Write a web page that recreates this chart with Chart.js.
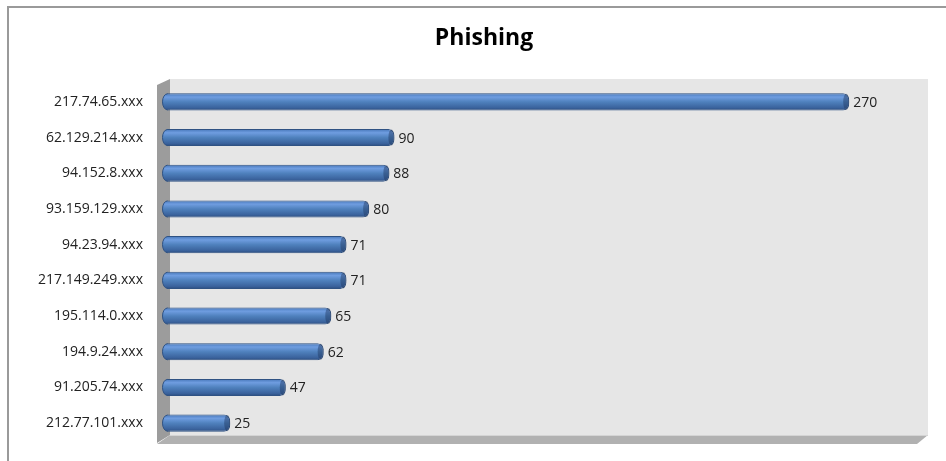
<!DOCTYPE html>
<html>
<head>
<meta charset="utf-8">
<script src="https://cdn.jsdelivr.net/npm/chart.js@4/dist/chart.umd.min.js"></script>
<style>
  html, body { margin: 0; padding: 0; background: #ffffff; }
  #wrap { width: 946px; height: 461px; position: relative; }
</style>
</head>
<body>
<div id="wrap"><canvas id="chart"></canvas></div>
<script>
// --- DATA ---
const categories = ['217.74.65.xxx', '62.129.214.xxx', '94.152.8.xxx', '93.159.129.xxx', '94.23.94.xxx',
                    '217.149.249.xxx', '195.114.0.xxx', '194.9.24.xxx', '91.205.74.xxx', '212.77.101.xxx'];
const hits = [270, 90, 88, 80, 71, 71, 65, 62, 47, 25];
const valueMin = 0;
const valueMax = 300;
const chartTitle = 'Phishing';

const FONT = "'Open Sans', 'DejaVu Sans', sans-serif";

// cylinder-ish vertical gradient for each bar, built from the category scale
function barGradient(c) {
    const chart = c.chart;
    const ys = chart.scales.y;
    if (!ys || ys.height == null) return '#4f81bd';
    const cy = ys.getPixelForValue(c.dataIndex);
    const half = (ys.height / categories.length) * 0.48 / 2;
    const g = chart.ctx.createLinearGradient(0, cy - half, 0, cy + half);
    g.addColorStop(0, '#4676b8');
    g.addColorStop(0.22, '#6f9de0');
    g.addColorStop(0.5, '#4f81bd');
    g.addColorStop(0.85, '#3a629c');
    g.addColorStop(1, '#2b4b7c');
    return g;
}

// --- 3D-looking walls, outer frame, title ---
const backdrop = {
    id: 'backdrop',
    beforeDraw(chart) {
        const { ctx, chartArea: a } = chart;
        ctx.save();
        // frame (only top + left visible in the reference)
        ctx.strokeStyle = '#9a9a9a';
        ctx.lineWidth = 2;
        ctx.beginPath();
        ctx.moveTo(8, chart.height);
        ctx.lineTo(8, 7);
        ctx.lineTo(chart.width, 7);
        ctx.stroke();

        // title (sits off-centre in the reference)
        ctx.fillStyle = '#000000';
        ctx.font = 'bold 23px ' + FONT;
        ctx.textAlign = 'center';
        ctx.textBaseline = 'middle';
        ctx.fillText(chartTitle, 484, 38);

        // back wall
        ctx.fillStyle = '#e6e6e6';
        ctx.fillRect(a.left + 3, a.top - 5, a.right - a.left, a.bottom - a.top - 1);

        // left side wall
        ctx.fillStyle = '#9c9c9c';
        ctx.beginPath();
        ctx.moveTo(a.left - 10, a.top + 1);
        ctx.lineTo(a.left + 3, a.top - 5);
        ctx.lineTo(a.left + 3, a.bottom - 6);
        ctx.lineTo(a.left - 10, a.bottom + 2);
        ctx.closePath();
        ctx.fill();

        // floor
        ctx.fillStyle = '#b1b1b1';
        ctx.beginPath();
        ctx.moveTo(a.left - 10, a.bottom + 3);
        ctx.lineTo(a.left + 3, a.bottom - 6);
        ctx.lineTo(a.right + 3, a.bottom - 6);
        ctx.lineTo(a.right - 8, a.bottom + 3);
        ctx.closePath();
        ctx.fill();
        ctx.strokeStyle = '#d4d4d4';
        ctx.lineWidth = 1;
        ctx.beginPath();
        ctx.moveTo(a.left + 3, a.bottom - 5.5);
        ctx.lineTo(a.right + 3, a.bottom - 5.5);
        ctx.stroke();
        ctx.restore();
    }
};

// value labels at the end of each bar, plus rounded caps
const barLabels = {
    id: 'barLabels',
    afterDatasetsDraw(chart) {
        const { ctx } = chart;
        const meta = chart.getDatasetMeta(0);
        ctx.save();
        meta.data.forEach((bar, i) => {
            const h = bar.height;
            // left rounded cap sticking out of the side wall
            ctx.fillStyle = barGradient({ chart, dataIndex: i });
            ctx.beginPath();
            ctx.ellipse(bar.base + 0.5, bar.y, 5, h / 2 - 0.5, 0, Math.PI / 2, Math.PI * 1.5);
            ctx.closePath();
            ctx.fill();
            ctx.strokeStyle = '#2f5283';
            ctx.lineWidth = 1;
            ctx.beginPath();
            ctx.ellipse(bar.base + 0.5, bar.y, 5, h / 2 - 0.5, 0, Math.PI / 2, Math.PI * 1.5);
            ctx.stroke();

            // darker right end
            ctx.fillStyle = 'rgba(30, 55, 95, 0.45)';
            ctx.beginPath();
            ctx.ellipse(bar.x - 3, bar.y, 3, h / 2 - 0.5, 0, 0, Math.PI * 2);
            ctx.fill();

            ctx.fillStyle = '#222222';
            ctx.font = '14px ' + FONT;
            ctx.textAlign = 'left';
            ctx.textBaseline = 'middle';
            ctx.fillText(String(hits[i]), bar.x + 4, bar.y + 1);
        });
        ctx.restore();
    }
};

new Chart(document.getElementById('chart'), {
    type: 'bar',
    data: {
        labels: categories,
        datasets: [{
            data: hits,
            backgroundColor: barGradient,
            borderColor: '#2f5283',
            borderWidth: 1,
            borderRadius: { topLeft: 0, bottomLeft: 0, topRight: 6, bottomRight: 6 },
            borderSkipped: 'start',
            barPercentage: 0.48,
            categoryPercentage: 1
        }]
    },
    options: {
        indexAxis: 'y',
        responsive: true,
        maintainAspectRatio: false,
        animation: false,
        layout: { padding: { left: 0, right: 21, top: 84, bottom: 20 } },
        plugins: {
            legend: { display: false },
            tooltip: { enabled: false },
            title: { display: false }
        },
        scales: {
            x: {
                display: false,
                min: valueMin,
                max: valueMax
            },
            y: {
                grid: { display: false, drawTicks: false },
                border: { display: false },
                ticks: {
                    color: '#222222',
                    font: { family: FONT, size: 14 },
                    padding: 24
                },
                afterFit(scale) {
                    scale.width = 167;
                    scale.paddingTop = 0;
                    scale.paddingBottom = 0;
                }
            }
        }
    },
    plugins: [backdrop, barLabels]
});
</script>
</body>
</html>
